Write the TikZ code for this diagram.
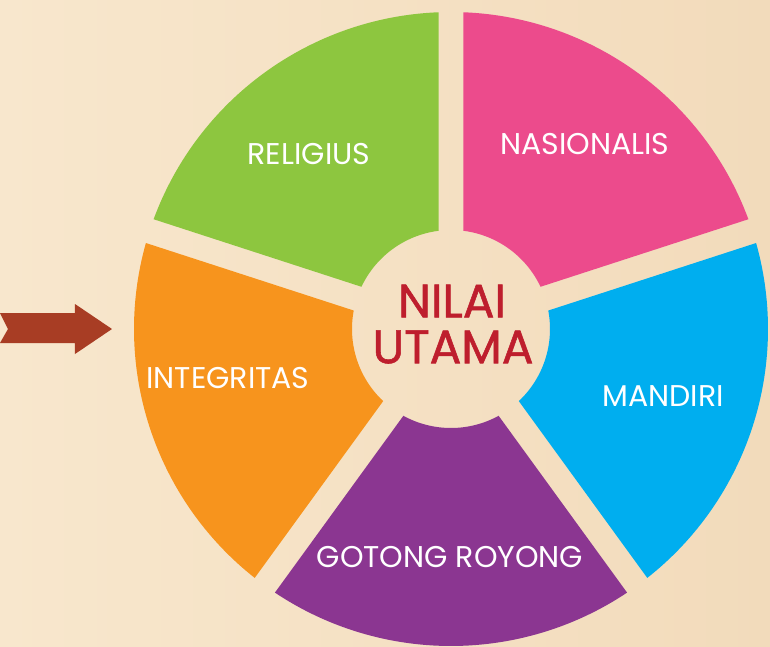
\documentclass[tikz,border=0pt]{standalone}
\usepackage{fontspec}
\setmainfont{Poppins}
\newfontfamily\centrefont[FakeBold=1.2]{Poppins}
\definecolor{bgL}{HTML}{F8E7CD}
\definecolor{bgR}{HTML}{F2DBBB}
\definecolor{cgreen}{HTML}{8DC63F}
\definecolor{cpink}{HTML}{EC4B8C}
\definecolor{cblue}{HTML}{00AEEF}
\definecolor{corange}{HTML}{F7941D}
\definecolor{cpurple}{HTML}{8B3691}
\definecolor{cred}{HTML}{BE1E2D}
\definecolor{carrow}{HTML}{A83D24}
\newcommand\wheelsector[3]{%
  \fill[#1] (#2+\dr:\rin) -- (#2+\dR:\Rout)
    arc[start angle=#2+\dR, end angle=#3-\dR, radius=\Rout]
    -- (#3-\dr:\rin)
    arc[start angle=#3-\dr, end angle=#2+\dr, radius=\rin] -- cycle;}
\begin{document}
\begin{tikzpicture}[x=1pt,y=1pt,
  lbl/.style={text=white, font=\fontsize{30}{30}\selectfont, inner sep=0pt},
  ctr/.style={text=cred, font=\centrefont\fontsize{47}{47}\selectfont, inner sep=0pt}]
\def\rin{99}
\def\Rout{317}
\def\dr{7.25}
\def\dR{2.26}
% background
\shade[left color=bgL, right color=bgR] (-451,-317) rectangle (319,329);
\useasboundingbox (-451,-317) rectangle (319,329);
% sectors
\wheelsector{cpink}{18}{90}
\wheelsector{cgreen}{90}{162}
\wheelsector{corange}{162}{234}
\wheelsector{cpurple}{234}{306}
\wheelsector{cblue}{-54}{18}
% arrow
\fill[carrow] (-451,16) -- (-443,0) -- (-451,-14) -- (-376,-14) -- (-376,-25)
  -- (-339,0) -- (-376,25) -- (-376,16) -- cycle;
% labels
\node[lbl] (religius) at (-142,175) {RELIGIUS};
\node[lbl] (nasionalis) at (134,185) {NASIONALIS};
\node[lbl] (mandiri) at (212,-67) {MANDIRI};
\node[lbl] (integritas) at (-223,-49) {INTEGRITAS};
\node[lbl] (gotong) at (-1,-228) {GOTONG ROYONG};
\node[ctr] (nilai) at (1,28) {NILAI};
\node[ctr] (utama) at (2,-18) {UTAMA};
\end{tikzpicture}
\end{document}
